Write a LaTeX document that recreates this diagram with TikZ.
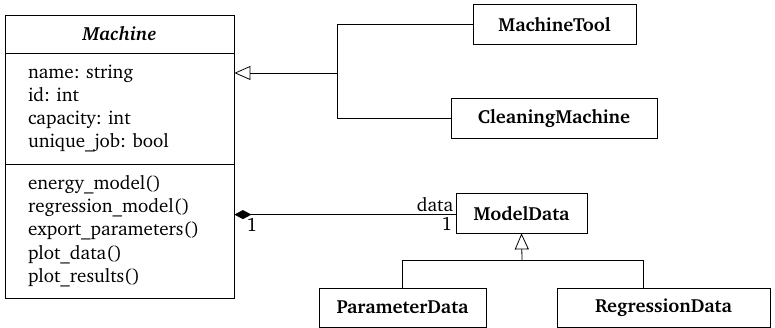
\documentclass[tikz,border=0pt]{standalone}
\usepackage[T1]{fontenc}
\usepackage{charter}
\usepackage{tikz}
\usetikzlibrary{arrows.meta,calc}
\frenchspacing
\newcommand{\umlsize}{\fontsize{19}{23.2}\selectfont}

\begin{document}
\begin{tikzpicture}[x=1pt,y=1pt,line width=0.8pt,font=\umlsize]
					\useasboundingbox (0,0) rectangle (775,328);
					
					\begin{scope}[every node/.style={rectangle,draw,line width=0.8pt,inner sep=0pt,minimum height=40pt}]
						% the machine class with its three parts
						\node[minimum width=229pt,minimum height=38pt,font=\umlsize\bfseries\itshape] (machine) at (119.5,294) {Machine};
						\node[minimum width=229pt,minimum height=111pt,text width=183pt,align=left] (mattr) at (119.5,219.5) {name: string\\id: int\\capacity: int\\unique\_job: bool};
						\node[minimum width=229pt,minimum height=134pt,text width=183pt,align=left] (mmeth) at (119.5,97) {energy\_model()\\regression\_model()\\export\_parameters()\\plot\_data()\\plot\_results()};
						
						\node[minimum width=163pt,font=\umlsize\bfseries] (tool) at (554.5,304) {MachineTool};
						\node[minimum width=206pt,font=\umlsize\bfseries] (cleaning) at (554,209.5) {CleaningMachine};
						\node[minimum width=131pt,font=\umlsize\bfseries] (modeldata) at (521.5,115) {ModelData};
						\node[minimum width=167pt,minimum height=39pt,font=\umlsize\bfseries] (param) at (402.5,20.5) {ParameterData};
						\node[minimum width=213pt,minimum height=39pt,font=\umlsize\bfseries] (regress) at (663.5,20.5) {RegressionData};
					\end{scope}
					
					\coordinate (mjoin) at (337,255);
					\coordinate (djoin) at (522,68);
					\coordinate (rjoin) at (643,68);
					
					\begin{scope}[every path/.style={draw=black,line width=0.8pt}]
						\draw (tool.west) -| (mjoin);
						\draw (cleaning.west) -| (mjoin);
						\draw [-{Triangle[open,length=16pt,width=14pt]}] (mjoin) -- (mattr.east |- mjoin);
						
						\draw [{Diamond[length=17pt,width=9pt]}-] ($(mmeth.north east)+(0,-51)$) -- (modeldata.west |- {$(mmeth.north east)+(0,-51)$}) node [pos=0.035,below right,inner sep=4pt] {1} node [pos=1,above left,inner sep=2pt] {data} node [pos=1,below left,inner sep=3pt] {1};
						
						\draw (param.north) |- (djoin);
						\draw (rjoin |- regress.north) -- (rjoin) -- (djoin);
						\draw [-{Triangle[open,length=16pt,width=14pt]}] (djoin) -- (modeldata.south);
					\end{scope}
				\end{tikzpicture}
\end{document}
